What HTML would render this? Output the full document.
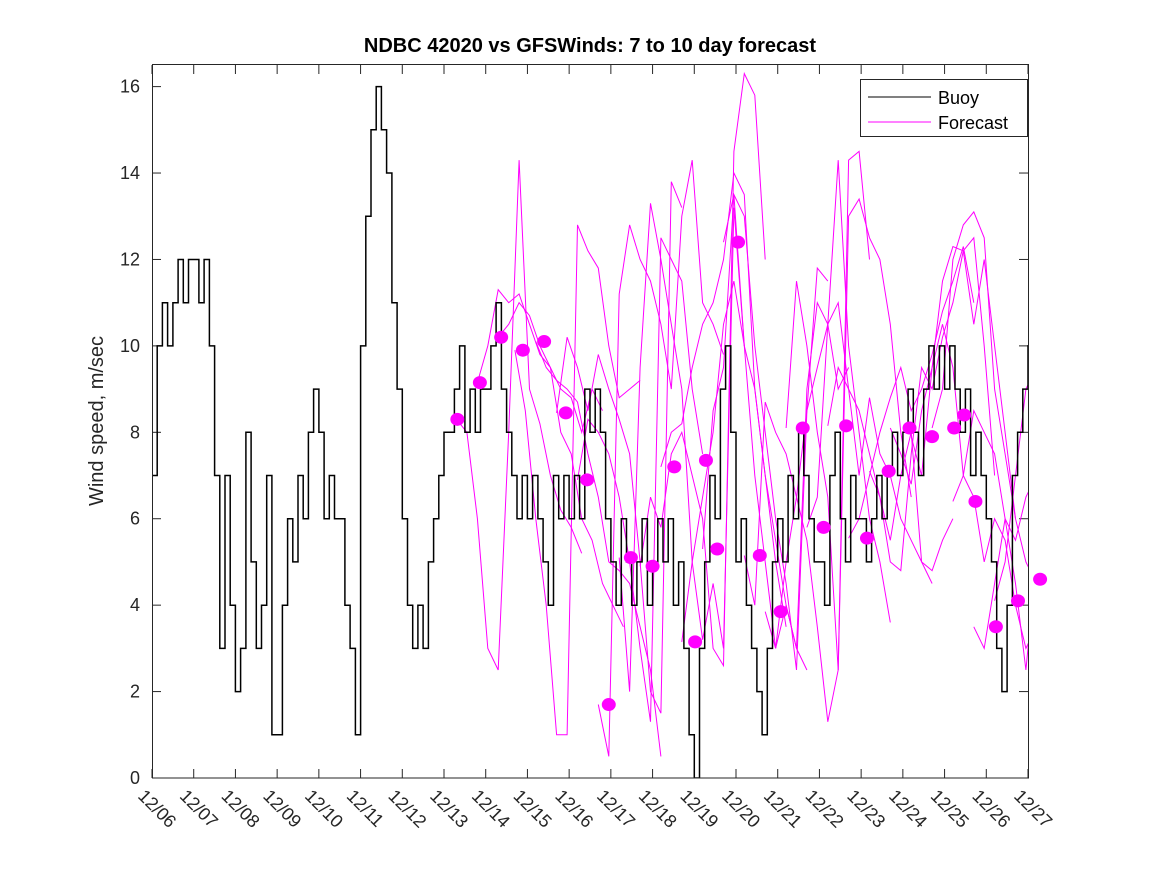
<!DOCTYPE html>
<html><head><meta charset="utf-8"><style>
body{margin:0;background:#fff;}
svg text{font-family:"Liberation Sans","DejaVu Sans",sans-serif;fill:#262626;}
</style></head><body>
<svg id="chart" width="1167" height="875" xmlns="http://www.w3.org/2000/svg">
<rect width="1167" height="875" fill="#fff"/>
<defs><clipPath id="clip"><rect x="152" y="65" width="876" height="713"/></clipPath></defs>
<text x="590" y="52" text-anchor="middle" font-size="20" font-weight="bold" style="fill:#000">NDBC 42020 vs GFSWinds: 7 to 10 day forecast</text>
<text transform="translate(103,421) rotate(-90)" text-anchor="middle" font-size="20">Wind speed, m/sec</text>
<g id="ticks"></g>
<g id="series" clip-path="url(#clip)"></g>
<g id="dots"></g>
<rect x="152.5" y="64.5" width="876" height="713.5" fill="none" stroke="#262626" stroke-width="1"/>
<g>
<rect x="860.5" y="79.5" width="167" height="57" fill="#fff" stroke="#262626"/>
<line x1="868" y1="97" x2="931" y2="97" stroke="#000"/>
<text x="938" y="104" font-size="18" style="fill:#000">Buoy</text>
<line x1="868" y1="122" x2="931" y2="122" stroke="#f0f"/>
<text x="938" y="129" font-size="18" style="fill:#000">Forecast</text>
</g>
</svg>
<script>
const xLabels=["12/06","12/07","12/08","12/09","12/10","12/11","12/12","12/13","12/14","12/15","12/16","12/17","12/18","12/19","12/20","12/21","12/22","12/23","12/24","12/25","12/26","12/27"];
const yTicks=[0,2,4,6,8,10,12,14,16];
const buoy=[7,10,11,10,11,12,11,12, 12,11,12,10,7,3,7,4, 2,3,8,5,3,4,7,1, 1,4,6,5,7,6,8,9,
 8,6,7,6,6,4,3,1, 10,13,15,16,15,14,11,9, 6,4,3,4,3,5,6,7, 8,8,9,10,8,9,8,9,
 9,10,11,9,8,7,6,7, 6,7,6,5,4,7,6,7, 6,7,6,9,8,9,8,6, 5,4,6,5,4,5,6,4,
 5,6,5,6,4,5,3,1, 0,3,5,7,6,9,10,8, 5,6,4,3,2,1,3,5, 6,5,7,6,8,7,6,5,
 5,4,7,8,6,5,7,6, 6,5,6,7,6,7,8,7, 8,9,8,7,9,10,9,10, 9,10,9,8,9,7,8,7,
 6,5,3,2,4,7,8,9,10];
const fcStarts=[7.3,7.8,8.3,8.7,9.2,9.7,10.2,10.7,11.2,11.7,12.2,12.7,13.2,13.7,14.2,14.7,15.2,15.7,16.2,16.7,17.2,17.7,18.2,18.7,19.2,19.7,20.2];
const fcValues=[
[8.3,8.0,6.0,3.0,2.5,8,14.3,9.0,8.2,7.0,6.2,5.8,5.2],
[9.15,10.0,11.3,11.0,11.2,10.5,9.8,9.5,9.0,8.8,8.0,9.0,8.5],
[10.2,10.5,11.0,10.7,10.0,9.5,8.0,7.5,6.0,5.5,4.5,4.0,3.5],
[9.9,8.5,6.0,4.0,1.0,1.0,12.8,12.2,11.8,10.0,8.8,9.0,9.2],
[10.1,9.5,9.2,9.0,8.7,7.5,6.5,5.0,4.8,4.5,3.5,2.5,0.5],
[8.45,10.2,9.5,8.5,9.8,9.0,8.3,7.5,5.0,2.0,1.5,13.8,13.2],
[6.9,8.3,8.0,7.5,6.5,5.0,3.0,1.3,12.5,12.0,11.5,9.0,7.5],
[1.7,0.5,11.2,12.8,12.0,11.5,10.5,9.0,13.0,14.3,11.0,10.5,9.8],
[5.1,2.0,9.5,13.3,12.0,10.5,9.0,5.0,3.2,4.5,3.0,13.2,10.0],
[4.9,6.5,5.8,7.5,8.0,7.0,6.0,3.0,2.6,14.5,16.3,15.8,12.0],
[7.2,8.0,8.2,9.5,10.5,11.0,12.0,14.0,13.5,9.0,7.0,5.0,3.5],
[3.15,5.0,6.5,8.0,10.5,11.5,10.0,9.0,7.0,5.5,4.0,3.0,2.5],
[5.3,8.5,9.5,13.5,13.0,10.0,8.0,6.0,4.5,2.5,8.5,11.8,11.5],
[12.4,13.5,10.0,7.0,5.0,3.0,4.0,3.0,9.0,11.0,10.5,9.0,9.5],
[5.15,4.0,8.7,8.0,7.5,6.5,5.5,3.5,1.3,2.5,14.3,14.5,12.0],
[3.85,3.0,5.0,6.5,8.5,9.5,10.5,14.3,10.0,8.0,6.0,5.0,3.6],
[8.1,11.5,10.0,8.0,6.5,2.5,13.0,13.4,12.5,12.0,10.5,8.0,6.5],
[5.8,6.5,10.5,11.0,9.0,7.0,8.8,7.5,7.0,6.0,5.5,5.0,4.5],
[8.15,9.5,9.0,8.5,7.5,6.5,5.5,7.0,8.0,5.0,4.8,5.5,6.0],
[5.55,6.0,7.0,8.0,8.8,9.5,8.5,9.0,9.8,10.8,11.5,12.3,11.0],
[7.1,6.5,5.0,4.8,7.5,9.5,9.0,10.2,11.0,12.2,12.5,10.0,7.0],
[8.1,7.5,6.8,8.5,9.5,11.5,12.3,12.2,10.5,12.0,10.0,8.0,6.0],
[7.9,7.0,9.5,10.5,9.5,7.0,6.5,5.0,6.0,5.5,4.0,3.0,3.5],
[8.1,9.0,12.0,12.8,13.1,12.5,9.0,7.5,6.0,5.0,4.5,4.0,2.5],
[6.4,7.0,8.5,8.0,7.5,6.0,4.5,2.5,5.0,6.5,7.5,8.5,8.0],
[3.5,3.0,4.5,6.0,5.5,6.5,7.0,7.5,6.5,7.5,8.0,7.5,6.5],
[4.1,5.0,7.0,9.0,9.5,10.5,11.0,10.5,11.5,12.0,12.1,12.0,11.5]];
const dotDays=[7.32,7.86,8.37,8.89,9.4,9.92,10.43,10.95,11.48,12.0,12.52,13.02,13.28,13.55,14.05,14.57,15.07,15.6,16.1,16.64,17.14,17.66,18.16,18.7,19.23,19.47,19.74,20.23,20.76,21.29];
const dotValues=[8.3,9.15,10.2,9.9,10.1,8.45,6.9,1.7,5.1,4.9,7.2,3.15,7.35,5.3,12.4,5.15,3.85,8.1,5.8,8.15,5.55,7.1,8.1,7.9,8.1,8.4,6.4,3.5,4.1,4.6];

const X=d=>152+d*(876/21);
const Y=v=>778-v*(713/16.5);
const NS="http://www.w3.org/2000/svg";
function mk(t,a,p){const e=document.createElementNS(NS,t);for(const k in a)e.setAttribute(k,a[k]);p.appendChild(e);return e;}
const tk=document.getElementById('ticks');
xLabels.forEach((l,i)=>{
  const x=X(i);
  const t1=mk('line',{x1:x,y1:778,x2:x,y2:769,stroke:'#262626'},tk);
  
  
  const t2=mk('line',{x1:x,y1:65,x2:x,y2:74,stroke:'#262626'},tk);
  
  
  const tx=mk('text',{transform:`translate(${x-15},${797}) rotate(45)`,'font-size':18},tk);
  tx.textContent=l;
  
  
});
yTicks.forEach(v=>{
  const y=Y(v);
  const a=mk('line',{x1:152,y1:y,x2:161,y2:y,stroke:'#262626'},tk);
  
  
  const b=mk('line',{x1:1028,y1:y,x2:1019,y2:y,stroke:'#262626'},tk);
  
  
  const tx=mk('text',{x:140,y:y+6,'text-anchor':'end','font-size':18},tk);
  tx.textContent=v;
  
  
});
const sg=document.getElementById('series');
fcStarts.forEach((s,i)=>{
  const pts=fcValues[i].map((v,j)=>X(s+j*0.25).toFixed(1)+','+Y(v).toFixed(1)).join(' ');
  const p=mk('polyline',{points:pts,fill:'none',stroke:'#f0f','stroke-width':1},sg);
  
  
});
let bp=[];
buoy.forEach((v,j)=>{
  const x0=X(j*0.125), x1=X((j+1)*0.125), y=Y(v);
  bp.push(x0.toFixed(1)+','+y.toFixed(1));
  bp.push(x1.toFixed(1)+','+y.toFixed(1));
});
const bl=mk('polyline',{points:bp.join(' '),fill:'none',stroke:'#000','stroke-width':1.5},sg);


const dg=document.getElementById('dots');
dotDays.forEach((d,i)=>{
  const c=mk('ellipse',{cx:X(d),cy:Y(dotValues[i]),rx:7,ry:6.5,fill:'#f0f'},dg);
  
  
});
</script>
</body></html>
